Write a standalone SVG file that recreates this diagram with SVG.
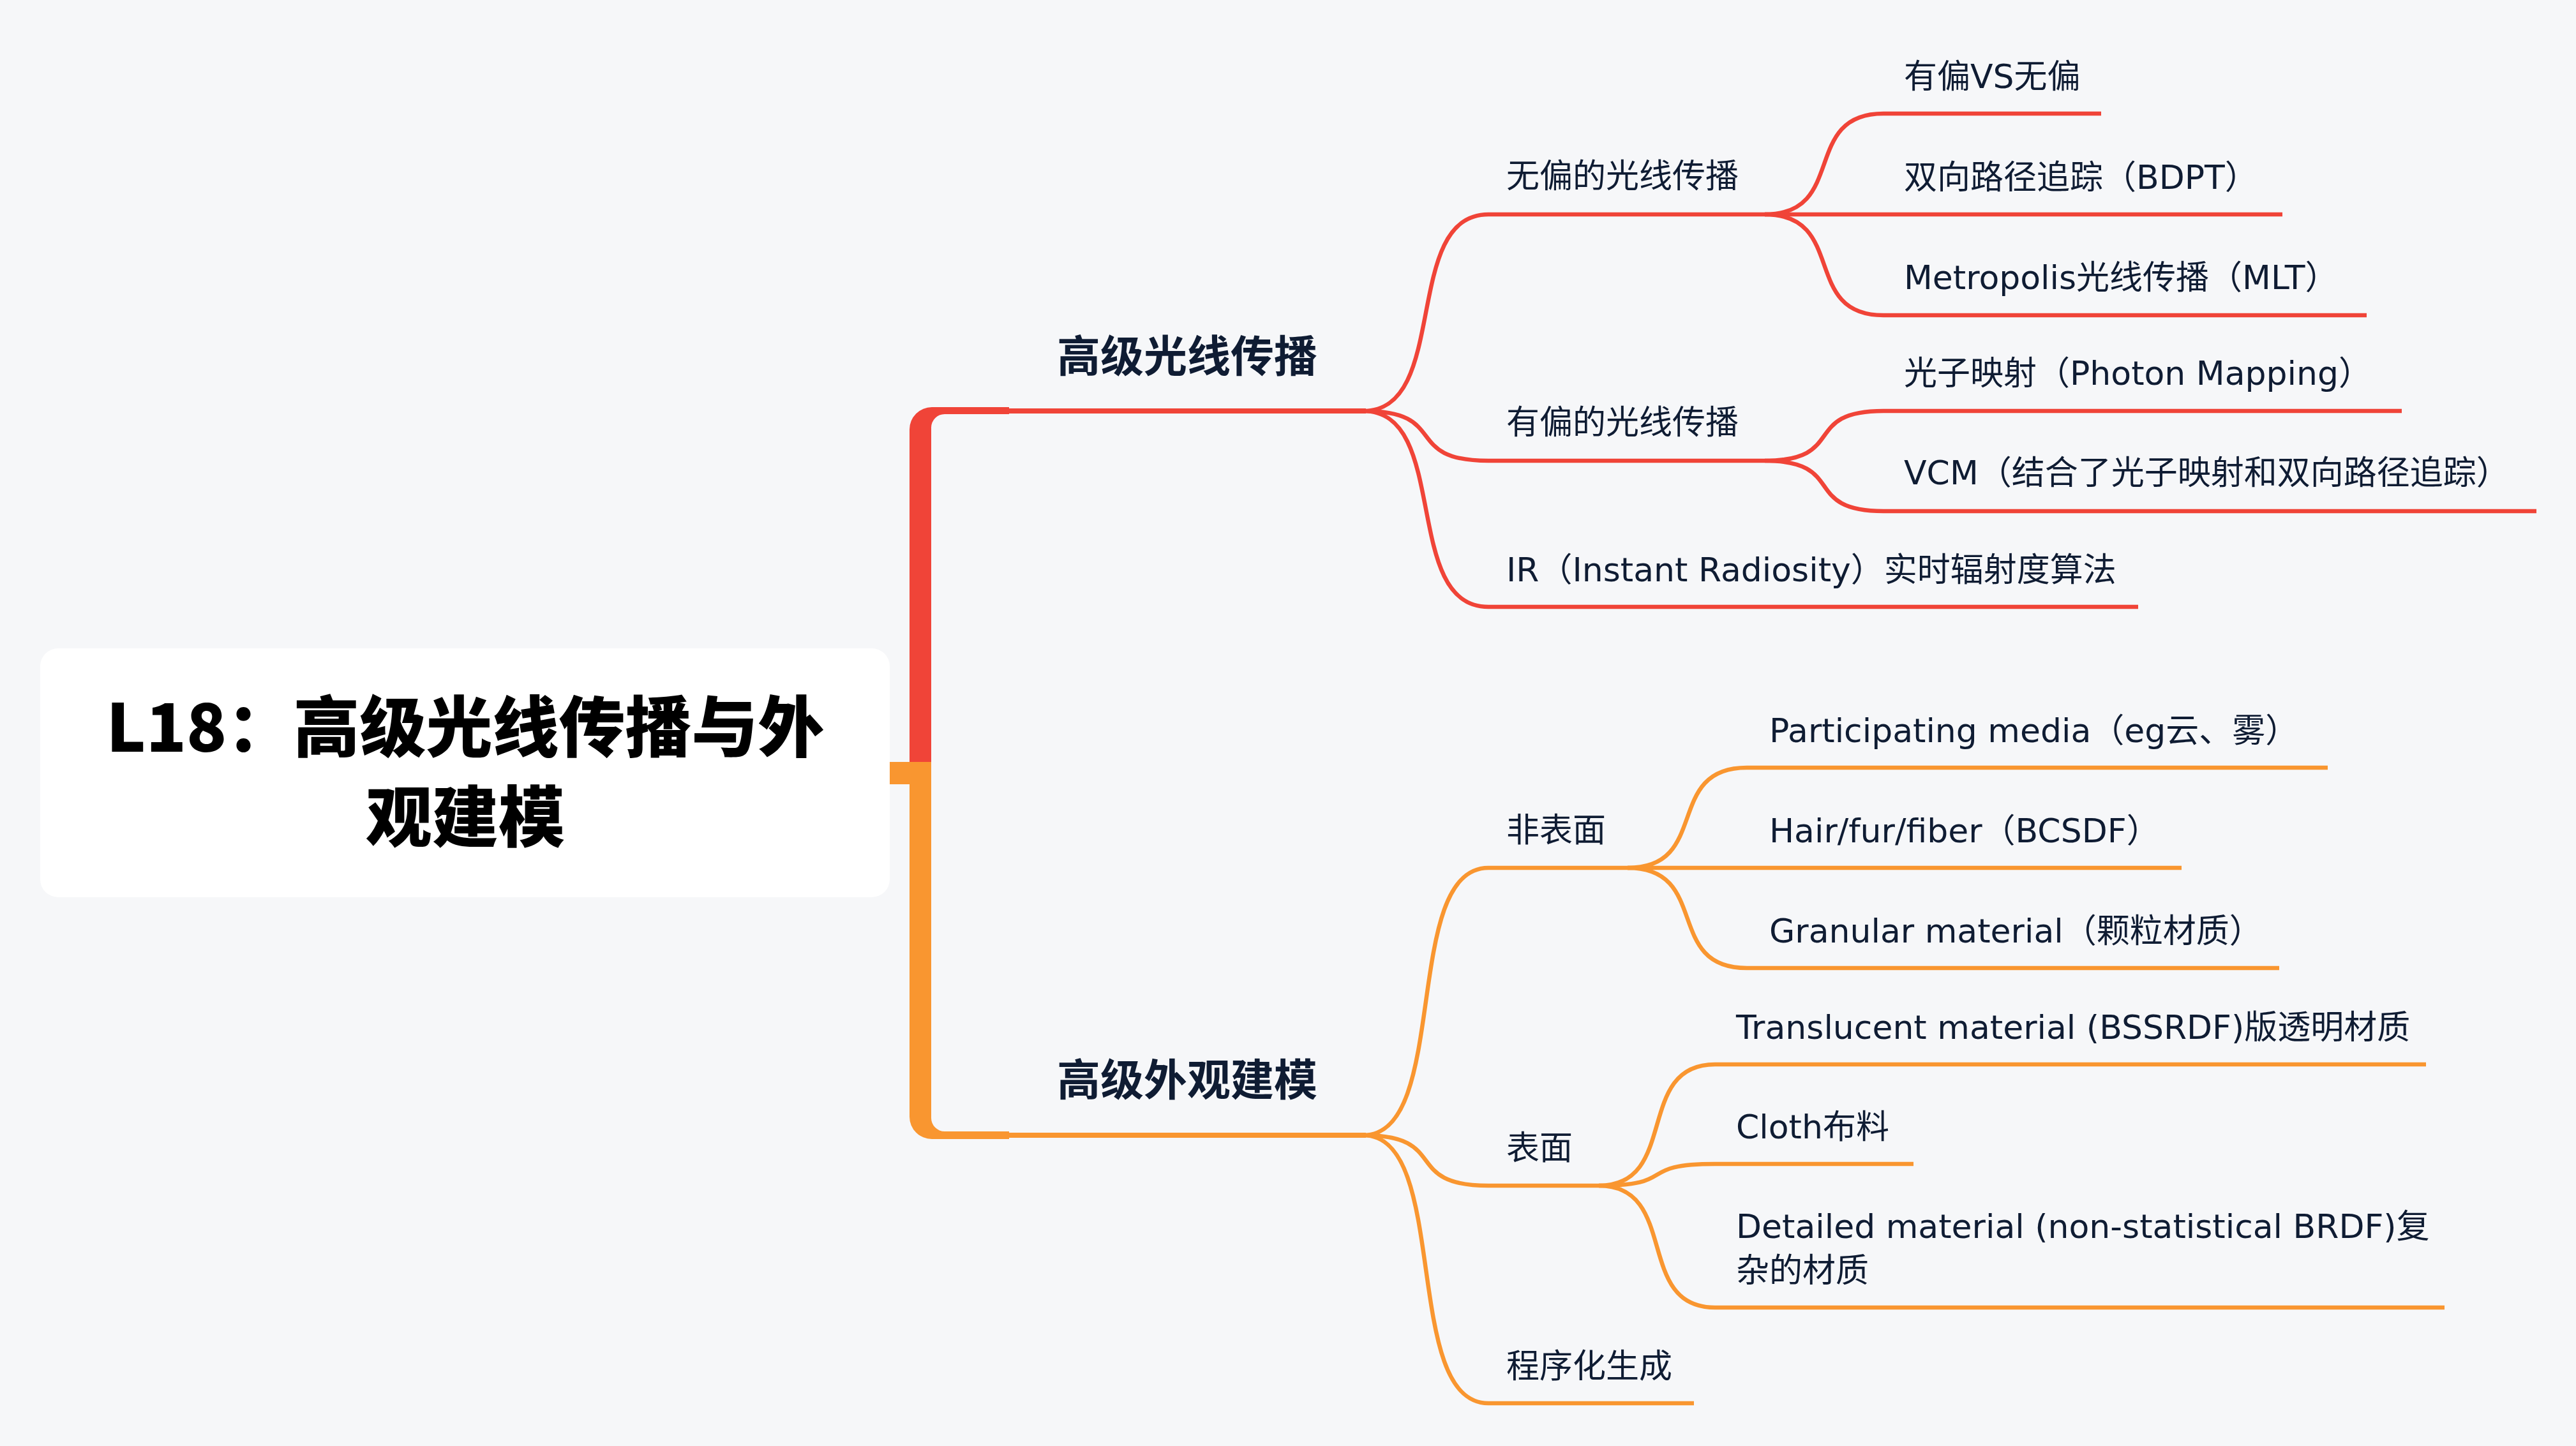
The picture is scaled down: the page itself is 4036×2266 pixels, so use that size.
<svg xmlns="http://www.w3.org/2000/svg" width="4036" height="2266" viewBox="0 0 4036 2266">
<style>
.bg{fill:#f6f7f9}
.red{stroke:#f04438;fill:none;stroke-linecap:butt}
.org{stroke:#f99630;fill:none;stroke-linecap:butt}
.thin{stroke-width:8}
.sub{stroke-width:6.5}
.t{font-family:"DejaVu Sans","Noto Sans CJK SC",sans-serif;font-size:52px;fill:#0f1c33}
.tm{font-family:"Noto Sans CJK SC",sans-serif;font-size:68px;font-weight:bold;fill:#0f1c33}
.tr{font-family:"Noto Sans CJK SC",sans-serif;font-size:104px;font-weight:900;fill:#000;text-anchor:middle}
</style>
<rect class="bg" x="0" y="0" width="4036" height="2266"/>

<g id="connectors">
  <path fill="#f04438" d="M1425 1195 L1425 673 A35 35 0 0 1 1460 638 L1581 638 L1581 649 L1480 649 A21 21 0 0 0 1459 670 L1459 1195 Z"/>
  <rect x="1390" y="1194" width="69" height="35" fill="#f99630"/>
  <path fill="#f99630" d="M1425 1194 L1425 1750 A35 35 0 0 0 1460 1785 L1581 1785 L1581 1773 L1480 1773 A21 21 0 0 1 1459 1752 L1459 1194 Z"/>
  <path class="red thin" d="M1578 644 L2140 644"/>
  <path class="org thin" d="M1578 1779 L2140 1779"/>

  <path class="red sub" d="M2136 644 C2273 644 2195 336 2332 336 L2765 336"/>
  <path class="red sub" d="M2136 644 C2273 644 2195 722 2332 722 L2765 722"/>
  <path class="red sub" d="M2136 644 C2273 644 2195 951 2332 951 L3350 951"/>
  <path class="red sub" d="M2765 336 C2895 336 2821 178 2951 178 L3292 178"/>
  <path class="red sub" d="M2765 336 L3576 336"/>
  <path class="red sub" d="M2765 336 C2895 336 2821 494 2951 494 L3708 494"/>
  <path class="red sub" d="M2765 722 C2895 722 2821 644 2951 644 L3763 644"/>
  <path class="red sub" d="M2765 722 C2895 722 2821 801 2951 801 L3974 801"/>

  <path class="org sub" d="M2136 1779 C2273 1779 2195 1360 2332 1360 L2550 1360"/>
  <path class="org sub" d="M2136 1779 C2273 1779 2195 1858 2332 1858 L2505 1858"/>
  <path class="org sub" d="M2136 1779 C2273 1779 2195 2199 2332 2199 L2654 2199"/>
  <path class="org sub" d="M2550 1360 C2681 1360 2606 1203 2737 1203 L3647 1203"/>
  <path class="org sub" d="M2550 1360 L3418 1360"/>
  <path class="org sub" d="M2550 1360 C2681 1360 2606 1517 2737 1517 L3571 1517"/>
  <path class="org sub" d="M2505 1858 C2632 1858 2560 1668 2687 1668 L3801 1668"/>
  <path class="org sub" d="M2505 1858 C2632 1858 2560 1824 2687 1824 L2998 1824"/>
  <path class="org sub" d="M2505 1858 C2632 1858 2560 2049 2687 2049 L3830 2049"/>
</g>

<g id="root">
  <rect x="63" y="1016" width="1331" height="390" rx="28" fill="#ffffff"/>
  <text class="tr" x="729" y="1178">L18：高级光线传播与外</text>
  <text class="tr" x="729" y="1319">观建模</text>
</g>

<g id="n-advanced-light">
  <text class="tm" x="1656" y="583">高级光线传播</text>
</g>
<g id="n-unbiased"><text class="t" x="2360" y="294">无偏的光线传播</text></g>
<g id="n-biased-vs"><text class="t" x="2983" y="138">有偏VS无偏</text></g>
<g id="n-bdpt"><text class="t" x="2983" y="296">双向路径追踪（BDPT）</text></g>
<g id="n-mlt"><text class="t" x="2983" y="453">Metropolis光线传播（MLT）</text></g>
<g id="n-biased"><text class="t" x="2360" y="680">有偏的光线传播</text></g>
<g id="n-photon"><text class="t" x="2983" y="603">光子映射（Photon Mapping）</text></g>
<g id="n-vcm"><text class="t" x="2983" y="759">VCM（结合了光子映射和双向路径追踪）</text></g>
<g id="n-ir"><text class="t" x="2360" y="911">IR（Instant Radiosity）实时辐射度算法</text></g>

<g id="n-advanced-appearance">
  <text class="tm" x="1656" y="1717">高级外观建模</text>
</g>
<g id="n-nonsurface"><text class="t" x="2360" y="1319">非表面</text></g>
<g id="n-participating"><text class="t" x="2772" y="1163">Participating media（eg云、雾）</text></g>
<g id="n-hair"><text class="t" x="2772" y="1320">Hair/fur/fiber（BCSDF）</text></g>
<g id="n-granular"><text class="t" x="2772" y="1477">Granular material（颗粒材质）</text></g>
<g id="n-surface"><text class="t" x="2360" y="1817">表面</text></g>
<g id="n-translucent"><text class="t" x="2720" y="1628">Translucent material (BSSRDF)版透明材质</text></g>
<g id="n-cloth"><text class="t" x="2720" y="1784">Cloth布料</text></g>
<g id="n-detailed"><text class="t" x="2720" y="1940">Detailed material (non-statistical BRDF)复</text><text class="t" x="2720" y="2009">杂的材质</text></g>
<g id="n-procedural"><text class="t" x="2360" y="2159">程序化生成</text></g>
</svg>
